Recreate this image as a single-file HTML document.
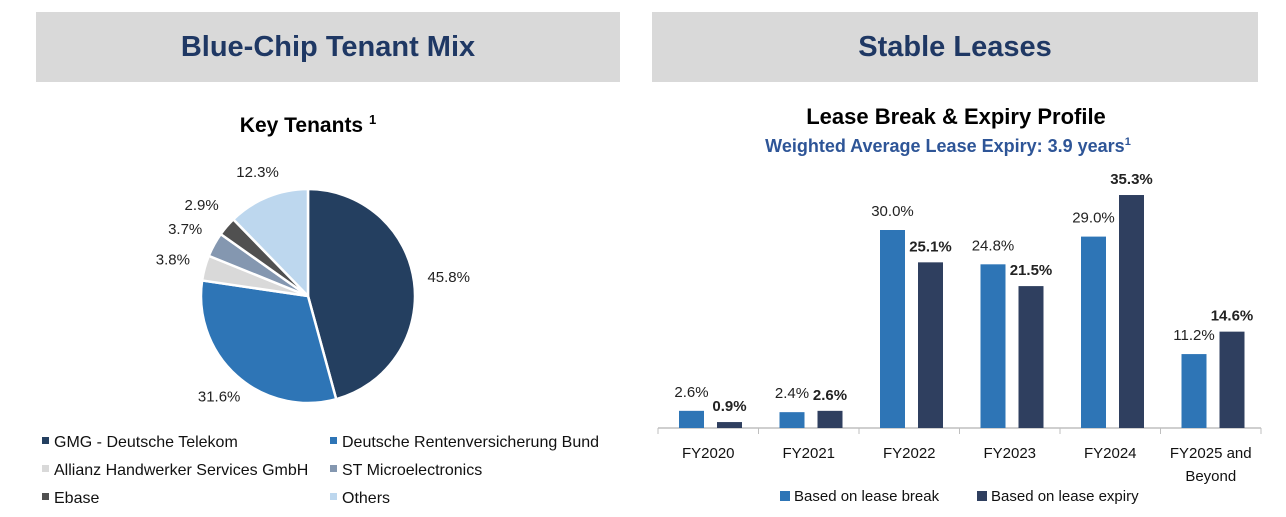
<!DOCTYPE html>
<html><head><meta charset="utf-8"><style>
body{margin:0;width:1286px;height:517px;background:#fff;overflow:hidden;font-family:"Liberation Sans",sans-serif}
.hdr{position:absolute;top:12px;height:70px;background:#d9d9d9;color:#1f3864;font-weight:bold;font-size:29px;display:flex;align-items:center;justify-content:center}
svg{position:absolute;left:0;top:0}
</style></head><body>
<div class="hdr" style="left:36px;width:584px">Blue-Chip Tenant Mix</div>
<div class="hdr" style="left:652px;width:606px">Stable Leases</div>
<svg id="s" width="1286" height="517" font-family="Liberation Sans, sans-serif">
<text x="308" y="132" text-anchor="middle" font-size="21" font-weight="bold" fill="#000">Key Tenants <tspan font-size="13" dy="-8">1</tspan></text>
<text x="956" y="124" text-anchor="middle" font-size="22" font-weight="bold" fill="#000">Lease Break &amp; Expiry Profile</text>
<text x="948" y="152" text-anchor="middle" font-size="18" font-weight="bold" fill="#2e5597">Weighted Average Lease Expiry: 3.9 years<tspan font-size="11" dy="-7">1</tspan></text>
<g id="pie"></g><g id="bars"></g><g id="leg"></g>
</svg>
<script>
const tenants=["GMG - Deutsche Telekom","Deutsche Rentenversicherung Bund","Allianz Handwerker Services GmbH","ST Microelectronics","Ebase","Others"];
const shares=[45.8,31.6,3.8,3.7,2.9,12.3];
const pieColors=["#243f60","#2e75b6","#d9d9d9","#8497b0","#505050","#bdd7ee"];
const years=["FY2020","FY2021","FY2022","FY2023","FY2024","FY2025 and|Beyond"];
const breakVals=[2.6,2.4,30.0,24.8,29.0,11.2];
const expiryVals=[0.9,2.6,25.1,21.5,35.3,14.6];
const NS="http://www.w3.org/2000/svg";
function mk(p,t,a){const e=document.createElementNS(NS,t);for(const k in a)e.setAttribute(k,a[k]);p.appendChild(e);return e;}
const pie=document.getElementById('pie'),bars=document.getElementById('bars'),leg=document.getElementById('leg');
const cx=308,cy=296,R=107;let tot=shares.reduce((a,b)=>a+b,0),acc=0;
shares.forEach((v,i)=>{const a0=acc/tot*2*Math.PI,a1=(acc+v)/tot*2*Math.PI;acc+=v;
 const x0=cx+R*Math.sin(a0),y0=cy-R*Math.cos(a0),x1=cx+R*Math.sin(a1),y1=cy-R*Math.cos(a1);
 const p=mk(pie,'path',{d:`M${cx},${cy}L${x0},${y0}A${R},${R} 0 ${a1-a0>Math.PI?1:0} 1 ${x1},${y1}Z`,fill:pieColors[i],stroke:'#fff','stroke-width':2.5});
 
 
 const am=(a0+a1)/2,lr=v<5?140:(v>40?142:134);
 const t=mk(pie,'text',{x:cx+lr*Math.sin(am),y:cy-lr*Math.cos(am)+5,'text-anchor':'middle','font-size':15,fill:'#222'});t.textContent=v.toFixed(1)+'%';
 
 
 const lx=42+(i%2)*288,ly=441+Math.floor(i/2)*28;
 const sq=mk(leg,'rect',{x:lx,y:ly-4,width:7,height:7,fill:pieColors[i]});
 
 
 const lt=mk(leg,'text',{x:lx+12,y:ly+6,'font-size':16,fill:'#111'});lt.textContent=tenants[i];
 
 
});
const base=428,x0=658,cw=100.5,ppu=6.6,bw=25;
const ax=mk(bars,'line',{x1:x0,y1:base,x2:x0+cw*6,y2:base,stroke:'#bfbfbf','stroke-width':1.5});


for(let i=0;i<=6;i++){const tk=mk(bars,'line',{x1:x0+i*cw,y1:base,x2:x0+i*cw,y2:base+6,stroke:'#bfbfbf'});
 
 }
years.forEach((y,i)=>{const c=x0+i*cw;
 [[breakVals[i],'#2e75b6',c+21,false],[expiryVals[i],'#2f3f5f',c+59,true]].forEach(([v,col,bx,bold],j)=>{
  const h=v*ppu;const r=mk(bars,'rect',{x:bx,y:base-h,width:bw,height:h,fill:col});
  
  
  const t=mk(bars,'text',{x:bx+bw/2,y:base-h-(bold?11:14),'text-anchor':'middle','font-size':15,'font-weight':bold?'bold':'normal',fill:'#222'});t.textContent=v.toFixed(1)+'%';
  
  
 });
 y.split('|').forEach((ln,k)=>{const t=mk(bars,'text',{x:c+cw/2,y:458+k*23,'text-anchor':'middle','font-size':15,fill:'#111'});t.textContent=ln;
  
  });
});
[["Based on lease break","#2e75b6",780],["Based on lease expiry","#2f3f5f",977]].forEach(([n,c,x],i)=>{
 const s=mk(bars,'rect',{x:x,y:491,width:10,height:10,fill:c});
 
 
 const t=mk(bars,'text',{x:x+14,y:501,'font-size':15,fill:'#111'});t.textContent=n;
 
 
});
</script>
</body></html>
